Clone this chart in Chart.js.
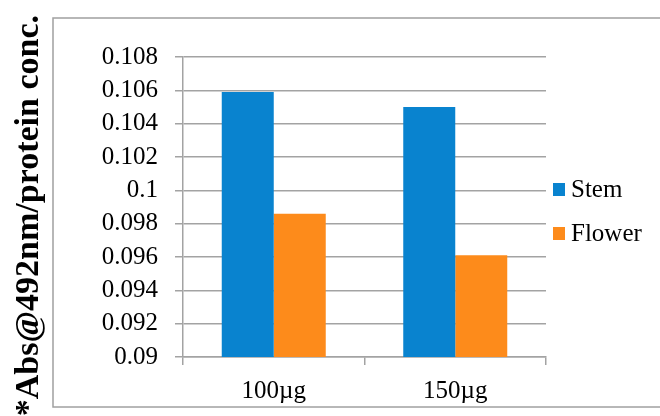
<!DOCTYPE html>
<html>
<head>
<meta charset="utf-8">
<script src="https://cdn.jsdelivr.net/npm/chart.js@4.4.0/dist/chart.umd.min.js"></script>
<style>
  html, body { margin: 0; padding: 0; background: #fff; }
  #wrap { width: 660px; height: 416px; }
</style>
</head>
<body>
<div id="wrap"><canvas id="chart" width="660" height="416"></canvas></div>
<script>
// data
const categories = ['100\u00b5g', '150\u00b5g'];
const stemValues = [0.1059, 0.1050];
const flowerValues = [0.0986, 0.0961];
const seriesNames = ['Stem', 'Flower'];
const yTickValues = [0.09, 0.092, 0.094, 0.096, 0.098, 0.1, 0.102, 0.104, 0.106, 0.108];
const yTickLabels = ['0.09', '0.092', '0.094', '0.096', '0.098', '0.1', '0.102', '0.104', '0.106', '0.108'];
const yTitle = '*Abs@492nm/protein conc.';

const BLUE = '#0983CF';
const ORANGE = '#FD8B1B';
const GRID = '#A3A3A3';
const SERIF = '"Liberation Serif", "Times New Roman", serif';

// white page + outer frame
const framePlugin = {
  id: 'frame',
  beforeDraw(chart) {
    const ctx = chart.ctx;
    ctx.save();
    ctx.fillStyle = '#fff';
    ctx.fillRect(0, 0, chart.width, chart.height);
    ctx.strokeStyle = '#A0A0A0';
    ctx.lineWidth = 1.5;
    ctx.strokeRect(53, 18, 640, 389);
    ctx.restore();
  }
};

// rotated bold axis title, outside the frame
const yTitlePlugin = {
  id: 'yTitle',
  afterDraw(chart) {
    const ctx = chart.ctx;
    ctx.save();
    ctx.translate(38, 15);
    ctx.rotate(-Math.PI / 2);
    ctx.font = 'bold 34px ' + SERIF;
    ctx.fillStyle = '#000';
    ctx.textAlign = 'right';
    ctx.textBaseline = 'alphabetic';
    ctx.fillText(yTitle, 0, 0);
    ctx.restore();
  }
};

// legend on the right, one item per dataset
const legendPlugin = {
  id: 'sideLegend',
  afterDraw(chart) {
    const ctx = chart.ctx;
    ctx.save();
    ctx.font = '25px ' + SERIF;
    ctx.textBaseline = 'middle';
    ctx.textAlign = 'left';
    chart.data.datasets.forEach((ds, i) => {
      const cy = 189.5 + i * 44;
      ctx.fillStyle = ds.backgroundColor;
      ctx.fillRect(553, cy - 6.5, 12, 13);
      ctx.fillStyle = '#000';
      ctx.fillText(ds.label, 571, cy + 1);
    });
    ctx.restore();
  }
};

new Chart(document.getElementById('chart'), {
  type: 'bar',
  data: {
    labels: categories,
    datasets: [
      { label: seriesNames[0], data: stemValues, backgroundColor: BLUE },
      { label: seriesNames[1], data: flowerValues, backgroundColor: ORANGE }
    ]
  },
  options: {
    responsive: false,
    animation: false,
    devicePixelRatio: 1,
    layout: { padding: { left: 0, top: 57, right: 114, bottom: 0 } },
    datasets: { bar: { categoryPercentage: 0.573, barPercentage: 1, borderWidth: 0 } },
    plugins: {
      legend: { display: false },
      tooltip: { enabled: false }
    },
    scales: {
      x: {
        offset: true,
        grid: { offset: true, drawOnChartArea: false, drawTicks: true, tickLength: 8, color: GRID, lineWidth: 1.5 },
        border: { display: true, color: GRID, width: 1.5 },
        ticks: { color: '#000', font: { family: SERIF, size: 25 }, padding: 11, maxRotation: 0 },
        afterFit(scale) { scale.height = 59; }
      },
      y: {
        min: 0.09,
        max: 0.108,
        grid: { color: GRID, lineWidth: 1.5, drawTicks: true, tickLength: 8 },
        border: { display: true, color: GRID, width: 1.5 },
        afterBuildTicks(scale) { scale.ticks = yTickValues.map(v => ({ value: v })); },
        ticks: {
          color: '#000',
          font: { family: SERIF, size: 25 },
          padding: 17,
          callback: (v, i) => yTickLabels[i]
        },
        afterFit(scale) { scale.width = 183; }
      }
    }
  },
  plugins: [framePlugin, yTitlePlugin, legendPlugin]
});
</script>
</body>
</html>
